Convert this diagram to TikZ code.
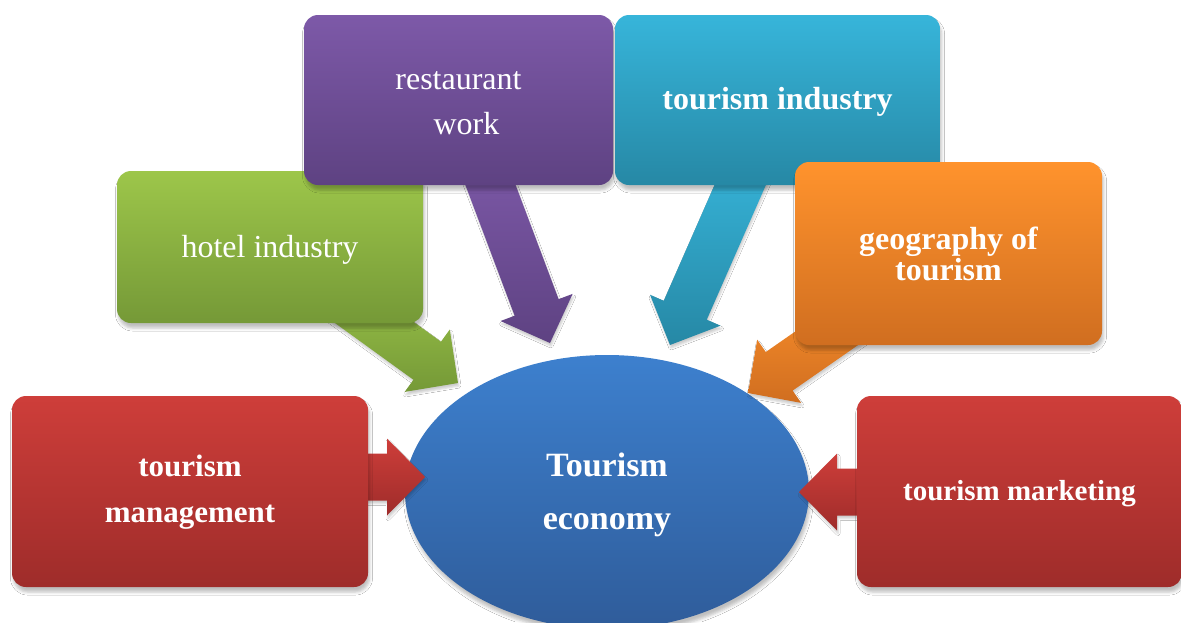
\documentclass[tikz,border=0pt]{standalone}
\usepackage{fontspec}
\setmainfont{Liberation Serif}
\usetikzlibrary{calc,shapes.geometric,shadows.blur}

% palette: light top / dark bottom of each gradient
\definecolor{redT}{HTML}{CE3E3A}
\definecolor{redB}{HTML}{9E2C2A}
\definecolor{grnT}{HTML}{9DC64A}
\definecolor{grnB}{HTML}{759937}
\definecolor{purT}{HTML}{7D59A8}
\definecolor{purB}{HTML}{5E4282}
\definecolor{teaT}{HTML}{37B5DA}
\definecolor{teaB}{HTML}{2688A5}
\definecolor{ornT}{HTML}{FF932D}
\definecolor{ornB}{HTML}{D06E20}
\definecolor{bluT}{HTML}{3D80CE}
\definecolor{bluB}{HTML}{2F5C9A}

\tikzset{
  softshadow/.style={blur shadow={shadow xshift=1.5pt, shadow yshift=-5pt,
      shadow blur radius=3pt, shadow opacity=25}},
  box/.style={rectangle, rounded corners=14pt, inner sep=0pt, align=center,
      text=white, softshadow},
  arrowshape/.style={blur shadow={shadow xshift=1pt, shadow yshift=-3pt,
      shadow blur radius=2pt, shadow opacity=20}},
  redfill/.style={top color=redT, bottom color=redB},
  grnfill/.style={top color=grnT, bottom color=grnB},
  purfill/.style={top color=purT, bottom color=purB},
  teafill/.style={top color=teaT, bottom color=teaB},
  ornfill/.style={top color=ornT, bottom color=ornB},
  blufill/.style={top color=bluT, bottom color=bluB},
  txtA/.style={font=\fontsize{32pt}{45pt}\selectfont},
  txtB/.style={font=\fontsize{32pt}{45pt}\selectfont\bfseries},
}

% block arrow: #1 name prefix, #2 start, #3 tip, #4 fill style
\newcommand\convarrow[4]{%
  \coordinate (#1b) at ($(#3)!38pt!(#2)$);
  \path[arrowshape, #4]
    ($(#2)!23.5pt!-90:(#3)$)
    -- ($(#1b)!23.5pt!90:(#2)$)
    -- ($(#1b)!38.5pt!90:(#2)$)
    -- (#3)
    -- ($(#1b)!38.5pt!-90:(#2)$)
    -- ($(#1b)!23.5pt!-90:(#2)$)
    -- ($(#2)!23.5pt!90:(#3)$)
    -- cycle;
}

\begin{document}
\begin{tikzpicture}[x=1pt, y=-1pt]
  \useasboundingbox (0,0) rectangle (1181,622);
  \fill[white] (0,0) rectangle (1181,622);

  % centre
  \node[ellipse, inner sep=0pt, minimum width=404pt, minimum height=274pt,
        blufill, softshadow, text=white, align=center,
        font=\fontsize{34pt}{53pt}\selectfont\bfseries]
        (eco) at (607,492) {\rule{0pt}{29pt}Tourism\\economy};

  % surrounding topics (positions only; boxes drawn after the arrows)
  \coordinate (hotelC) at (270,247);
  \coordinate (restC)  at (458.5,100);
  \coordinate (indC)   at (777.5,100);
  \coordinate (geoC)   at (948.5,253.5);

  % arrow tips on the centre
  \coordinate (gT) at (458,383);
  \coordinate (pT) at (550,343);
  \coordinate (tT) at (670,345);
  \coordinate (oT) at (748,393);
  \coordinate (lT) at (425,477);
  \coordinate (rT) at (799,492);

  % arrow tails hidden under the boxes
  \coordinate (gS) at ($(hotelC)!0.3!(gT)$);
  \coordinate (pS) at ($(restC)!0.25!(pT)$);
  \coordinate (tS) at ($(indC)!0.25!(tT)$);
  \coordinate (oS) at ($(geoC)!0.3!(oT)$);
  \coordinate (lS) at (330,477);
  \coordinate (rS) at (900,492);

  \convarrow{g}{gS}{gT}{grnfill}
  \convarrow{p}{pS}{pT}{purfill}
  \convarrow{t}{tS}{tT}{teafill}
  \convarrow{o}{oS}{oT}{ornfill}
  \convarrow{l}{lS}{lT}{redfill}
  \convarrow{r}{rS}{rT}{redfill}

  % boxes
  \node[box, grnfill, minimum width=306pt, minimum height=152pt, txtA]
        (hotel) at (hotelC) {\rule{0pt}{27pt}hotel industry};
  \node[box, purfill, minimum width=309pt, minimum height=170pt, txtA]
        (rest) at (restC) {\rule{0pt}{24pt}restaurant\\\hspace*{16pt}work};
  \node[box, teafill, minimum width=325pt, minimum height=170pt, txtB]
        (ind) at (indC) {\rule{0pt}{25pt}tourism industry};
  \node[box, ornfill, minimum width=307pt, minimum height=183pt,
        font=\fontsize{32pt}{31pt}\selectfont\bfseries]
        (geo) at (geoC) {geography of\\tourism};
  \node[box, redfill, minimum width=356pt, minimum height=191pt,
        font=\fontsize{31pt}{46pt}\selectfont\bfseries]
        (mgmt) at (190,491.5) {\rule{0pt}{23pt}tourism\\management};
  \node[box, redfill, minimum width=325pt, minimum height=191pt,
        font=\fontsize{29pt}{40pt}\selectfont\bfseries]
        (mkt) at (1019.5,491.5) {\rule{0pt}{25pt}tourism marketing};
\end{tikzpicture}
\end{document}
